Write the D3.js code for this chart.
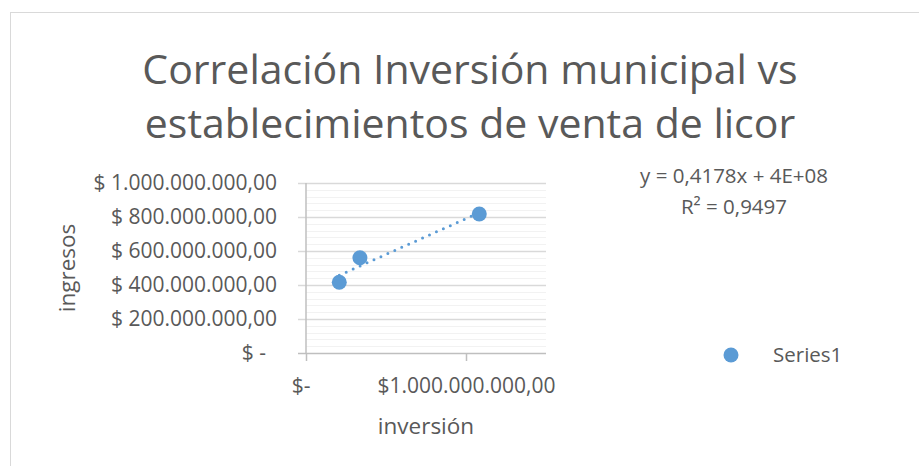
<!DOCTYPE html>
<html>
<head>
<meta charset="utf-8">
<script src="https://cdn.jsdelivr.net/npm/d3@7"></script>
<style>
  html, body { margin: 0; padding: 0; background: #fff; }
  svg { display: block; }
  text { font-family: "Open Sans", Carlito, Calibri, sans-serif; fill: #595959; }
</style>
</head>
<body>
<div id="chart"></div>
<script>
// data
const inversion = [208e6, 337e6, 1083e6];
const ingresos = [416e6, 560e6, 818e6];
const titleLines = ["Correlación Inversión municipal vs", "establecimientos de venta de licor"];
const yTicks = [0, 200e6, 400e6, 600e6, 800e6, 1000e6];
const xTicks = [0, 1000e6];
const seriesName = "Series1";
const equation = ["y = 0,4178x + 4E+08", "R² = 0,9497"];

const width = 919, height = 466;
const plot = {left: 306, right: 546, top: 183, bottom: 353};
const blue = "#5b9bd5";

const svg = d3.select("#chart").append("svg")
  .attr("width", width)
  .attr("height", height);

// chart frame
svg.append("rect")
  .attr("x", 10.5).attr("y", 12.5)
  .attr("width", 930).attr("height", 470)
  .attr("fill", "#fff")
  .attr("stroke", "#d9d9d9");

const x = d3.scaleLinear().domain([0, 1500e6]).range([plot.left, plot.right]);
const y = d3.scaleLinear().domain([0, 1000e6]).range([plot.bottom, plot.top]);

// money format: 1.000.000,00
const money = d => d3.format(",.2f")(d).replace(/,/g, "#").replace(".", ",").replace(/#/g, ".");

// minor gridlines
svg.append("g")
  .selectAll("line")
  .data(d3.range(0, 1000e6 + 1, 40e6))
  .join("line")
    .attr("x1", plot.left).attr("x2", plot.right)
    .attr("y1", d => Math.round(y(d)) + 0.5).attr("y2", d => Math.round(y(d)) + 0.5)
    .attr("stroke", "#f2f2f2");

// y axis with major gridlines
const yAxis = svg.append("g")
  .attr("transform", `translate(${plot.left},0)`)
  .call(d3.axisLeft(y).tickValues(yTicks)
    .tickSize(-(plot.right - plot.left))
    .tickFormat(d => d === 0 ? "$ -\u00a0\u00a0" : "$ " + money(d)));
yAxis.select(".domain").remove();
yAxis.selectAll(".tick line")
  .attr("x1", -8)
  .attr("stroke", d => d === 0 ? "#bfbfbf" : "#d9d9d9")
  .attr("stroke-width", 1.5);
yAxis.selectAll(".tick text")
  .attr("x", -29)
  .style("font-size", "21px")
  .attr("fill", "#595959");

// x axis
const xAxis = svg.append("g")
  .attr("transform", `translate(0,${plot.bottom})`)
  .call(d3.axisBottom(x).tickValues(xTicks).tickSize(8)
    .tickFormat(d => d === 0 ? "$-\u00a0\u00a0" : "$" + money(d)));
xAxis.select(".domain").remove();
xAxis.selectAll(".tick line").attr("stroke", "#bfbfbf").attr("stroke-width", 1.5);
xAxis.selectAll(".tick text")
  .attr("y", 40).attr("dy", 0)
  .style("font-size", "21px")
  .attr("fill", "#595959");

// y axis line
svg.append("line")
  .attr("x1", plot.left).attr("x2", plot.left)
  .attr("y1", plot.top).attr("y2", plot.bottom)
  .attr("stroke", "#bfbfbf").attr("stroke-width", 1.5);

// linear trendline (least squares on the points)
const pts = inversion.map((v, i) => [v, ingresos[i]]);
const mx = d3.mean(inversion), my = d3.mean(ingresos);
const slope = d3.sum(pts, p => (p[0] - mx) * (p[1] - my)) / d3.sum(pts, p => (p[0] - mx) ** 2);
const intercept = my - slope * mx;
const [x0, x1] = d3.extent(inversion);
svg.append("path")
  .datum([x0, x1])
  .attr("d", d3.line().x(d => x(d)).y(d => y(slope * d + intercept)))
  .attr("fill", "none")
  .attr("stroke", blue)
  .attr("stroke-width", 3)
  .attr("stroke-linecap", "round")
  .attr("stroke-dasharray", "0 7.6");

// points
svg.append("g")
  .selectAll("circle")
  .data(pts)
  .join("circle")
    .attr("cx", d => x(d[0]))
    .attr("cy", d => y(d[1]))
    .attr("r", 7.5)
    .attr("fill", blue);

// title
svg.append("text")
  .attr("text-anchor", "middle")
  .style("font-size", "41px")
  .selectAll("tspan")
  .data(titleLines)
  .join("tspan")
    .attr("x", 470)
    .attr("y", (d, i) => 84 + i * 54)
    .text(d => d);

// axis titles
svg.append("text")
  .attr("x", (plot.left + plot.right) / 2).attr("y", 434)
  .attr("text-anchor", "middle")
  .style("font-size", "22.5px")
  .text("inversión");
svg.append("text")
  .attr("transform", `translate(75,${(plot.top + plot.bottom) / 2}) rotate(-90)`)
  .attr("text-anchor", "middle")
  .style("font-size", "22.5px")
  .text("ingresos");

// trendline label
svg.append("text")
  .attr("text-anchor", "middle")
  .style("font-size", "20.5px")
  .selectAll("tspan")
  .data(equation)
  .join("tspan")
    .attr("x", 734)
    .attr("y", (d, i) => 183 + i * 31)
    .text(d => d);

// legend
svg.append("circle")
  .attr("cx", 731).attr("cy", 355).attr("r", 7.5)
  .attr("fill", blue);
svg.append("text")
  .attr("x", 773).attr("y", 362)
  .style("font-size", "20.5px")
  .text(seriesName);
</script>
</body>
</html>
